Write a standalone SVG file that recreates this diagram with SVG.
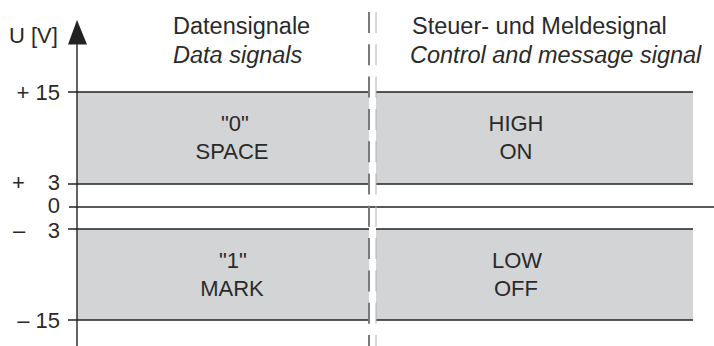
<svg xmlns="http://www.w3.org/2000/svg" width="714" height="346" viewBox="0 0 714 346">
<style>
text{font-family:"Liberation Sans",Arial,sans-serif;font-size:22px;fill:#2a2a2a}
.hd{font-size:23.5px}
.it{font-style:italic}
.mid{text-anchor:middle}
.end{text-anchor:end}
.band{fill:#d3d4d6}
.ln{stroke:#222;stroke-width:1.4;fill:none}
.dashA{stroke:#7a7a7a;stroke-width:2;stroke-dasharray:21 11.3;fill:none}
.dashB{stroke:#b0b0b0;stroke-width:1;stroke-dasharray:21 11.3;fill:none}
</style>
<rect width="714" height="346" fill="#fff"/>
<g id="bands">
<g id="space">
<rect class="band" x="77" y="92" width="292" height="92"/>
<text class="mid" x="235" y="131">"0"</text>
<text class="mid" x="232" y="159">SPACE</text>
</g>
<g id="high">
<rect class="band" x="376" y="92" width="317" height="92"/>
<text class="mid" x="516" y="131">HIGH</text>
<text class="mid" x="516" y="159">ON</text>
</g>
<g id="mark">
<rect class="band" x="77" y="229" width="292" height="91"/>
<text class="mid" x="233" y="268">"1"</text>
<text class="mid" x="232" y="296">MARK</text>
</g>
<g id="low">
<rect class="band" x="376" y="229" width="317" height="91"/>
<text class="mid" x="517" y="268">LOW</text>
<text class="mid" x="516" y="296">OFF</text>
</g>
</g>
<g id="connectors">
<path class="ln" d="M68 92H369M376 92H693M68 184H369M376 184H693M68 229H369M376 229H693M68 320H369M376 320H693"/>
<path class="ln" d="M69 207H714"/>
<path class="ln" d="M77 44V346"/>
<polygon points="77,20 68,44.5 87,44.5" fill="#222"/>
<path class="dashA" d="M369 12V346"/>
<path class="dashB" d="M376 12V346"/>
</g>
<g id="axis-labels">
<text x="9" y="43">U [V]</text>
<text class="end" x="60" y="100">+ 15</text>
<text x="12" y="190">+</text>
<text class="end" x="60" y="190">3</text>
<text class="end" x="60" y="213">0</text>
<text x="13" y="238">–</text>
<text class="end" x="60" y="238">3</text>
<text class="end" x="60" y="328">– 15</text>
</g>
<g id="headers">
<text class="hd" x="173" y="34">Datensignale</text>
<text class="hd it" x="173" y="63">Data signals</text>
<text class="hd" x="412" y="34">Steuer- und Meldesignal</text>
<text class="hd it" x="410" y="63">Control and message signal</text>
</g>
</svg>
